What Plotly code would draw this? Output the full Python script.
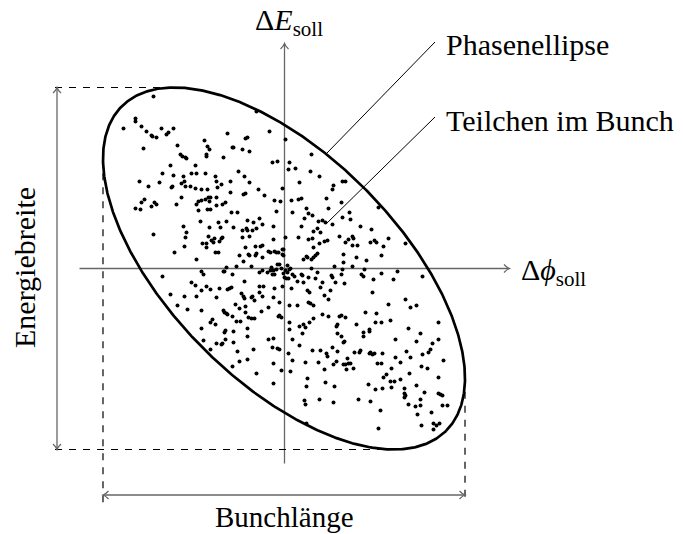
import numpy as np
import plotly.graph_objects as go

# Particle positions in the bunch: phase offset and energy offset (drawing units)
delta_phi = [
    -131, -149, -149, -143, -161, -138, -133, -132, -128, -123,
    -118, -116, -111, -80, -141, -77, -75, -107, -104, -102,
    -99, -98, -78, -78, -61, -114, -89, -122, -111, -101,
    -93, -88, -79, -69, -100, -145, -125, -103, -68, -136,
    -113, -112, -99, -94, -89, -83, -77, -67, -63, -103,
    -68, -140, -86, -83, -79, -76, -74, -75, -143, -130,
    -128, -133, -108, -149, -144, -88, -68,
    -86, -77, -74, -84, -66, -101, -75, -98, -64, -131,
    -99, -76, -70, -73, -63, -82, -78, -71, -78, -65,
    -100, -110, -69, -66, -88, -61, -83, -81, -122, -93,
    -89, -83, -78, -74, -65, -114, -100, -88, -68, -107,
    -97, -83, -72, -69, -74, -83,
    -81, -68, -63, -74, -60,
    -28, -57, -15, -39, -37, 1, -52, -51, -42, -35,
    27, -12, -7, 5, 4, 11, 26, -46, -40, 35,
    -54, -35, 15, 49, 48, 58, 61, -26, -2, -54,
    -39, -41, -20, 42, -10, -4, 7, 14, 17, 57,
    -59, -62, 94,
    -53, -47, -58, -8, 8, 22, 24, 44, -25, -37,
    -31, -22, 20, 28, 38, 34, 41, 48, 58, -51,
    -42, -38, -37, -32, -28, -11, 17, 33, 36, 29,
    -62, -42, -35, -11, 1, 14, 24, 28, 40, 43,
    55, 35, -29, -24, -22, -39, 29, -16, -14, -10,
    -8, -6, -2, -1, -28, -29, -36, -35, -45, -22,
    -2, -1, 33, 31, 29, 27, 19, 59, -41, 22,
    23, 59, -7, -5, 3, -48, -33, -13, -58, -14,
    -11, -8, -3, 1, 3, 5, 6, 27, 50, -60,
    -52, -25, -22, -17, -12, -10, -1, 8, 10, 0,
    17, 18, 24, 33, 47, 48, 57, 2, 4, 13,
    19, 31, 38, 51, 60, -40, -2, -25, -21, -55,
    -57, -53, -10, 7, 23, 25, 36, 46, -25, 40,
    -43, -41, -40, -33, -32, -22, -11, 44, -30, -5,
    24, 26, -49, 5, 13, -39, -16, 29, -45, -61,
    -60, -57, -58, -23, -39, -52, -36, -33, -30, -5,
    -3, -6, 38, 44, 55, 57, -48, -44, 5, 25,
    29, -37, 15, 19, 21, 52, 53, 5,
    65, 66, 76, 87, 61, 64, 68, 69, 68, 73,
    86, 90, 92, 104, 99, 121, 97, 72, 82, 68,
    58, 80, 77, 79, 97, 113, 89, 109, 138, 88,
    121, 104, 126, 132, 81, 92, 61, 72, 91, 97,
    106, 154, 124, 85,
    -59, -51, -59, -62, -51, -37, -47, -31, -52, -45,
    -37, -28, -16, -11, -12, -7, -5, -11, -3, -11,
    8, 18, 15, 4, 8, 6, 21, 28, 36, 42,
    43, 34, 48, 53, 57, 59, 53, 52, 49, 59,
    40, 23, 22, 41, 50, 20, 21, 35, 49, 22,
    79, 85, 79, 136, 60, 111, 132, 154, 148, 146,
    144, 138, 70, 75, 76, 85, 86, 88, 90, 98,
    122, 126, 111, 116, 63, 64, 61, 66, 62, 69,
    93, 97, 107, 137, 143, 159, 125, 102, 99, 154,
    106, 110, 116, 84, 98, 91, 107, 120, 132, 140,
    154, 156, 158, 120, 121, 120, 74, 86, 136, 124,
    131, 136, 158, 163, 96, 147, 133, 137, 149, 152,
    155, 149, 94,
]
delta_E = [
    172, 150, 147, 142, 140, 137, 133, 132, 131, 140,
    134, 136, 140, 128, 120, 122, 119, 123, 114, 112,
    111, 110, 114, 112, 111, 103, 103, 95, 93, 92,
    95, 95, 95, 92, 87, 87, 86, 85, 87, 82,
    81, 82, 82, 82, 80, 79, 79, 81, 84, 71,
    71, 69, 67, 68, 69, 71, 71, 67, 66, 66,
    64, 62, 64, 60, 59, 64, 63,
    58, 59, 59, 47, 46, 42, 41, 36, 41, 34,
    31, 32, 30, 28, 30, 25, 25, 26, 21, 27,
    22, 16, 16, 16, 9, -3, -3, -6, -8, -14,
    -17, -22, -18, -21, -20, -26, -28, -28, -29, -37,
    -41, -42, -51, -56, -54, -60,
    -72, -75, -76, -81, -64,
    157, 135, 137, 130, 131, 129, 121, 121, 119, 117,
    114, 106, 107, 106, 99, 100, 97, 97, 92, 92,
    87, 86, 86, 83, 79, 87, 87, 79, 80, 76,
    75, 74, 73, 70, 68, 67, 68, 69, 70, 66,
    66, 64, 61,
    56, 56, 47, 57, 56, 60, 55, 60, 50, 48,
    46, 44, 50, 53, 48, 47, 46, 44, 51, 41,
    38, 40, 38, 38, 40, 42, 42, 40, 36, 37,
    31, 31, 32, 29, 31, 31, 29, 30, 27, 28,
    32, 25, 22, 22, 23, 21, 21, 17, 16, 17,
    16, 16, 19, 19, 15, 13, 14, 13, 13, 11,
    14, 13, 15, 13, 11, 9, 9, 14, 7, 12,
    11, 6, 4, 4, 3, 2, 2, 1, 1, -2,
    -2, -1, 0, -2, -4, -1, 0, 0, 2, -3,
    -6, -4, -2, -4, -6, -6, -5, -6, -8, -9,
    -6, -7, -9, -4, -7, -9, -6, -10, -10, -13,
    -14, -10, -14, -14, -15, -13, -18, -18, -18, -20,
    -21, -19, -20, -20, -22, -24, -19, -22, -24, -27,
    -25, -28, -30, -29, -28, -28, -29, -31, -32, -34,
    -34, -35, -36, -37, -37, -38, -39, -37, -40, -42,
    -44, -46, -45, -43, -44, -48, -49, -50, -50, -47,
    -49, -48, -46, -48, -48, -47, -53, -53, -54, -54,
    -50, -60, -58, -56, -59, -58, -56, -61,
    56, 49, 42, 39, 26, 29, 32, 30, 23, 23,
    26, 28, 26, 30, 22, 25, 13, 11, 8, 2,
    -1, -1, -6, -8, -5, -3, -11, -11, -8, -24,
    -31, -36, -39, -37, -44, -45, -49, -56, -54, -54,
    -52, -54, -60, -61,
    -62, -63, -71, -75, -74, -68, -83, -81, -98, -93,
    -91, -105, -71, -70, -79, -80, -81, -95, -102, -115,
    -71, -65, -77, -85, -92, -103, -94, -82, -82, -85,
    -88, -94, -79, -65, -68, -74, -83, -93, -96, -96,
    -101, -110, -118, -114, -118, -132, -136, -131, -134, -155,
    -64, -63, -68, -65, -73, -71, -73, -71, -75, -81,
    -84, -86, -84, -84, -82, -85, -84, -86, -85, -85,
    -83, -89, -89, -94, -90, -95, -96, -95, -101, -100,
    -95, -95, -100, -98, -100, -92, -105, -106, -109, -109,
    -113, -113, -111, -116, -120, -121, -119, -120, -117, -124,
    -125, -126, -127, -125, -127, -129, -131, -133, -131, -136,
    -138, -137, -137, -137, -142, -144, -146, -157, -155, -157,
    -155, -161, -160,
]

# Phase ellipse: centre, semi-axes and tilt
ell_center = (-0.5, 0.0)
ell_a, ell_b = 229.4, 113.6
ell_tilt = np.deg2rad(-45.0)

# Coordinate axes (from tail to arrow tip)
phi_axis = (-205.0, 225.0)
E_axis = (-195.0, 225.0)

# Dimension arrows below and left of the ellipse
width_arrow_y = -226.5
height_arrow_x = -227.5
dim_line_end = -234.5

# Leader lines from labels to the ellipse / a particle
leader_ellipse = ((150.5, 226.5), (42.5, 115.5))
leader_particle = ((150.5, 151.5), (41.5, 44.5))

FONT = "Liberation Serif"
AXIS_GREY = "#666666"

t = np.linspace(0, 2 * np.pi, 721)
ex = ell_center[0] + ell_a * np.cos(t) * np.cos(ell_tilt) - ell_b * np.sin(t) * np.sin(ell_tilt)
ey = ell_center[1] + ell_a * np.cos(t) * np.sin(ell_tilt) + ell_b * np.sin(t) * np.cos(ell_tilt)

# extreme (tangent) points of the tilted ellipse
i_top, i_bot = int(np.argmax(ey)), int(np.argmin(ey))
i_left, i_right = int(np.argmin(ex)), int(np.argmax(ex))
top = (ex[i_top], ey[i_top])
bot = (ex[i_bot], ey[i_bot])
left = (ex[i_left], ey[i_left])
right = (ex[i_right], ey[i_right])


def arrow_tip(tip, direction, length=5.5, half=4.0):
    """Open, slightly curved arrow head (like a TikZ 'to' tip)."""
    d = np.asarray(direction, float)
    d /= np.hypot(*d)
    n = np.array([-d[1], d[0]])
    p = np.asarray(tip, float)
    a1 = p - length * d + half * n
    a2 = p - length * d - half * n
    c1 = p - 0.45 * length * d + 0.2 * half * n
    c2 = p - 0.45 * length * d - 0.2 * half * n
    return (f"M {a1[0]},{a1[1]} Q {c1[0]},{c1[1]} {p[0]},{p[1]} "
            f"Q {c2[0]},{c2[1]} {a2[0]},{a2[1]}")


shapes = []


def seg(x0, y0, x1, y1, color="black", width=1.0, dash=None, layer="below"):
    line = dict(color=color, width=width)
    if dash:
        line["dash"] = dash
    shapes.append(dict(type="line", xref="x", yref="y", x0=x0, y0=y0, x1=x1, y1=y1,
                       line=line, layer=layer))


def head(tip, direction, color, width=1.0):
    shapes.append(dict(type="path", xref="x", yref="y", path=arrow_tip(tip, direction),
                       line=dict(color=color, width=width), layer="below"))


# coordinate axes
seg(phi_axis[0], 0, phi_axis[1], 0, AXIS_GREY, 1.3)
head((phi_axis[1], 0), (1, 0), AXIS_GREY, 1.2)
seg(0, E_axis[0], 0, E_axis[1], AXIS_GREY, 1.3)
head((0, E_axis[1]), (0, 1), AXIS_GREY, 1.2)

# dashed extent guides
dash = "7px,7px"
seg(height_arrow_x - 2, top[1], top[0], top[1], "black", 1.2, dash)
seg(height_arrow_x - 2, bot[1], bot[0], bot[1], "black", 1.2, dash)
seg(left[0], left[1], left[0], dim_line_end, "black", 1.2, dash)
seg(right[0], right[1], right[0], dim_line_end, "black", 1.2, dash)

# Energiebreite / Bunchlänge double arrows
seg(height_arrow_x, bot[1], height_arrow_x, top[1], AXIS_GREY, 1.3)
head((height_arrow_x, top[1]), (0, 1), AXIS_GREY, 1.2)
head((height_arrow_x, bot[1]), (0, -1), AXIS_GREY, 1.2)
seg(left[0], width_arrow_y, right[0], width_arrow_y, AXIS_GREY, 1.3)
head((left[0], width_arrow_y), (-1, 0), AXIS_GREY, 1.2)
head((right[0], width_arrow_y), (1, 0), AXIS_GREY, 1.2)

# leader lines
for (p0, p1) in (leader_ellipse, leader_particle):
    seg(p0[0], p0[1], p1[0], p1[1], "black", 1.0, layer="above")

fig = go.Figure()
fig.add_trace(go.Scatter(x=delta_phi, y=delta_E, mode="markers",
                         marker=dict(color="black", size=4.0, line=dict(width=0)),
                         hoverinfo="skip"))
fig.add_trace(go.Scatter(x=ex, y=ey, mode="lines",
                         line=dict(color="black", width=2.7), hoverinfo="skip"))


def label(text, x, y, xanchor="center", yanchor="middle", angle=0, size=30):
    fig.add_annotation(text=text, x=x, y=y, xref="x", yref="y", showarrow=False,
                       xanchor=xanchor, yanchor=yanchor, textangle=angle, borderpad=0,
                       font=dict(family=FONT, size=size, color="black"))


label("Δ<i>E</i><sub>soll</sub>", 4, 247)
label("Δ<i>ϕ</i><sub>soll</sub>", 235.5, -3, xanchor="left")
label("Phasenellipse", 160.5, 224, xanchor="left")
label("Teilchen im Bunch", 160.5, 148, xanchor="left")
label("Energiebreite", -260.5, 0.5, angle=-90)
label("Bunchlänge", 0, -248, size=29)

fig.update_layout(
    width=683, height=534, autosize=False,
    margin=dict(l=0, r=0, t=0, b=0),
    paper_bgcolor="white", plot_bgcolor="white",
    showlegend=False,
    shapes=shapes,
    xaxis=dict(range=[-284.5, 398.5], visible=False, fixedrange=True),
    yaxis=dict(range=[-265.5, 268.5], visible=False, fixedrange=True),
)

fig.write_html("out.html", config={"displayModeBar": False})
